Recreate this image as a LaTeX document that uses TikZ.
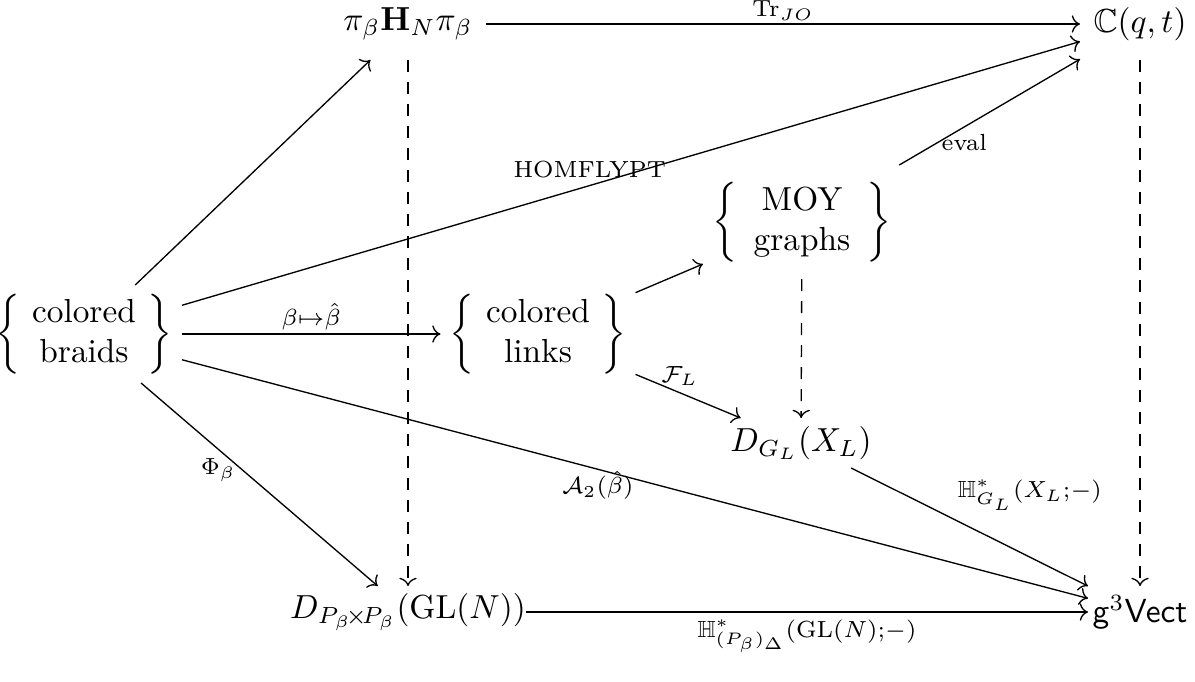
\documentclass[tikz,border=0pt]{standalone}
\usepackage{amsmath,amssymb}
\usetikzlibrary{cd}
\tikzset{
  obj/.style={inner sep=0pt, outer sep=0pt},
  arr/.style={-{cm to}, line width=0.4pt},
  dsh/.style={arr, dash pattern=on 3.6pt off 3pt},
  lab/.style={inner sep=2pt},
  tlab/.style={font=\scriptsize, inner sep=2pt},
}
\newcommand{\mybraces}[3]{$\left\{\hspace{#3}\begin{matrix}\text{#1}\\\text{#2}\end{matrix}\hspace{#3}\right\}$}
\begin{document}
\begin{tikzpicture}[x=0.3pt,y=-0.3pt]
\useasboundingbox (0,0) rectangle (1195,681);
\node[obj, minimum width=46.8pt, minimum height=21.6pt] (pi) at (408,24) {$\pi_\beta\mathbf{H}_N\pi_\beta$};
\node[obj, minimum width=36pt, minimum height=21.6pt] (C) at (1140,24) {$\mathbb{C}(q,t)$};
\node[obj, minimum width=58.8pt, minimum height=29.4pt] (braids) at (84,334) {\mybraces{colored}{braids}{3.5pt}};
\node[obj, minimum width=58.5pt, minimum height=29.4pt] (links) at (538,334) {\mybraces{colored}{links}{3.5pt}};
\node[obj, minimum width=59.4pt, minimum height=34.2pt] (MOY) at (802,222) {\mybraces{MOY}{graphs}{5pt}};
\node[obj, minimum width=39pt, minimum height=15pt] (DGL) at (801,443) {$D_{G_L}(X_L)$};
\node[obj, minimum width=70.8pt, minimum height=15.6pt] (DPb) at (408,612) {$D_{P_\beta\!\times\! P_\beta}(\mathrm{GL}(N))$};
\node[obj, minimum width=31.2pt, minimum height=15.6pt] (g3) at (1140,612) {$\mathsf{g}^3\mathsf{Vect}$};

\draw[arr] (pi) -- node[lab,above,inner sep=1pt]{$\scriptstyle\mathrm{Tr}_{JO}$} (C);
\draw[arr] (braids) -- (pi);
\draw[arr] (braids) -- node[tlab,pos=0.454,above]{HOMFLYPT} (C);
\draw[arr] (braids) -- node[lab,above,inner sep=1pt]{$\scriptstyle\beta\mapsto\hat\beta$} (links);
\draw[arr] (braids) -- node[lab,pos=0.43,left]{$\scriptstyle\Phi_\beta$} (DPb);
\draw[arr] (braids) -- node[lab,pos=0.459,below,inner sep=0.5pt]{$\scriptstyle\mathcal{A}_2(\hat\beta)$} (g3);
\draw[arr] (links) -- (MOY);
\draw[arr] (links) -- node[lab,pos=0.42,above]{$\scriptstyle\mathcal{F}_L$} (DGL);
\draw[arr] (MOY) -- node[tlab,pos=0.36,below]{eval} (C);
\draw[dsh] (MOY) -- (DGL);
\draw[arr] (DGL) -- node[lab,pos=0.42,above right]{$\scriptstyle\mathbb{H}^*_{G_L}(X_L;-)$} (g3);
\draw[arr] (DPb) -- node[lab,below]{$\scriptstyle\mathbb{H}^*_{(P_\beta)_\Delta}(\mathrm{GL}(N);-)$} (g3);
\draw[dsh] (pi) -- (pi |- DPb.north);
\draw[dsh] (C) -- (g3);
\end{tikzpicture}
\end{document}
